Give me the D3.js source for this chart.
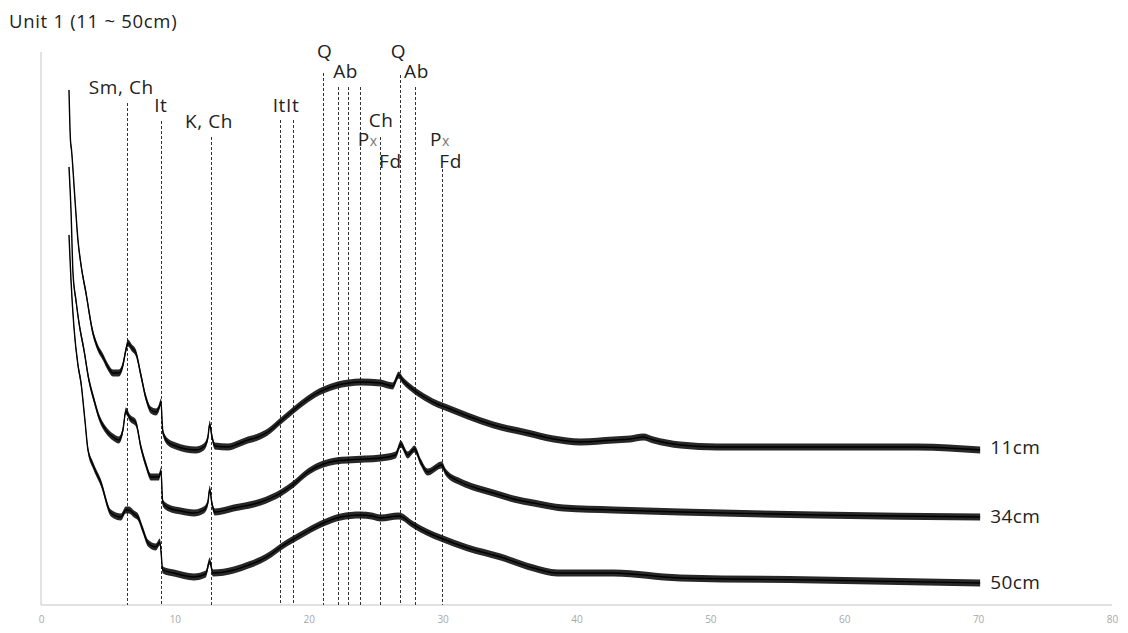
<!DOCTYPE html>
<html>
<head>
<meta charset="utf-8">
<script src="https://cdn.jsdelivr.net/npm/d3@7/dist/d3.min.js"></script>
<style>
  html, body { margin: 0; padding: 0; background: #fff; }
  svg { display: block; font-family: "Open Sans", "Noto Sans", sans-serif; }
</style>
</head>
<body>
<svg id="chart" width="1128" height="633"></svg>
<script>
// X-ray diffraction patterns, Unit 1, three sampling depths (2θ in degrees, intensity in a.u.)
const title = "Unit 1 (11 ~ 50cm)";
const xTicks = [0, 10, 20, 30, 40, 50, 60, 70, 80];
const seriesNames = ["11cm", "34cm", "50cm"];

const trace11 = [
  [2.09,515],[2.2,465],[2.28,455],[2.54,405],[2.76,365],[2.99,340],[3.36,312],[3.88,272],
  [4.25,257],[4.63,248],[5.0,238],[5.37,232],[5.82,232],[6.12,240],[6.34,255],[6.49,262],
  [6.79,257],[7.09,252],[7.46,230],[7.84,207],[8.2,195],[8.58,193],[8.81,197],[8.96,203],
  [9.1,173],[9.48,163],[10.07,159],[10.82,156],[11.57,155],[12.16,158],[12.46,167],[12.6,181],
  [12.76,169],[12.99,159],[13.96,158],[14.7,161],[15.45,165],[16.2,168],[16.94,173],[17.91,184],
  [18.88,195],[19.93,206],[20.5,211],[21.1,215],[22.16,220],[23.0,222],[23.88,223],[25.37,222],
  [26.27,219],[26.72,230],[27.0,225],[27.84,215],[28.88,206],[29.6,201],[30.37,197],[31.87,189],
  [33.8,180],[36.34,172],[38.28,166],[40.3,163],[42.76,165],[44.0,166],[45.0,168],[45.75,165],
  [47.76,160],[50.52,158],[58.0,158],[65.45,158],[70.15,155]
];
const trace34 = [
  [2.09,438],[2.24,395],[2.39,332],[2.61,305],[2.84,282],[3.21,255],[3.58,225],[3.96,205],
  [4.33,188],[4.85,175],[5.37,168],[5.82,165],[6.12,175],[6.34,194],[6.64,187],[7.09,182],
  [7.46,158],[7.84,140],[8.21,128],[8.81,128],[8.96,134],[9.1,102],[9.55,97],[10.45,94],
  [11.42,92],[12.16,95],[12.46,102],[12.6,116],[12.76,102],[12.99,93],[14.4,97],[16.42,103],
  [17.91,112],[18.88,121],[19.93,133],[21.1,141],[22.0,144],[22.9,145],[24.2,146],[25.37,147],
  [26.49,150],[26.87,161],[27.39,150],[27.9,156],[28.36,143],[28.88,133],[29.93,140],[30.22,133],
  [31.34,123],[32.5,117],[33.8,112],[35.3,106],[36.79,102],[39.03,97],[42.76,95],[47.76,93],
  [58.0,90],[70.15,88]
];
const trace50 = [
  [2.09,370],[2.24,325],[2.46,278],[2.76,240],[2.99,222],[3.28,185],[3.51,155],[3.88,140],
  [4.48,122],[5.22,92],[5.97,88],[6.34,95],[6.57,95],[6.94,91],[7.24,88],[7.61,75],
  [7.99,62],[8.58,58],[8.88,63],[9.1,35],[9.93,32],[11.42,28],[12.31,31],[12.6,44],
  [12.84,32],[14.4,35],[15.5,40],[16.42,45],[17.2,51],[17.91,58],[18.88,66],[19.93,74],
  [21.1,82],[22.39,88],[23.88,90],[24.7,89],[25.37,87],[26.72,89],[27.84,80],[28.8,73],
  [29.85,67],[31.87,57],[34.33,48],[36.79,37],[38.58,32],[42.76,32],[47.76,27],[58.0,25],
  [70.15,22]
];
const traces = [trace11, trace34, trace50];
const labelValues = [157, 88, 22];

// reference lines: 2θ position and intensity where each dashed line starts
const refPositions = [6.4, 8.95, 12.7, 17.85, 18.8, 21.05, 22.15, 22.9, 23.85, 25.35, 26.85, 27.95, 29.95];
const refTops      = [502, 484, 468, 485, 485, 532, 518, 518, 518, 468, 530, 518, 436];

// mineral annotations: text, 2θ anchor, intensity of baseline
const mineralLabels = [
  ["Sm, Ch", 6.0, 511], ["It", 8.95, 493], ["K, Ch", 12.55, 477], ["ItIt", 18.3, 493],
  ["Q", 21.2, 547], ["Ab", 22.75, 527], ["Q", 26.7, 547], ["Ab", 28.05, 527],
  ["Ch", 25.4, 478], ["Px", 24.4, 459], ["Fd", 26.1, 437], ["Px", 29.8, 459], ["Fd", 30.6, 437]
];

const svg = d3.select("#chart");
const x = d3.scaleLinear().domain([0, 80]).range([41, 1112]);
const y = d3.scaleLinear().domain([0, 553]).range([605, 52]);

// title
svg.append("text").attr("x", 9).attr("y", 28)
  .attr("font-size", 18.5).attr("letter-spacing", 0.7).attr("fill", "#222").text(title);

// plot frame (left and bottom)
svg.append("line").attr("x1", x(0)).attr("x2", x(0)).attr("y1", y(553)).attr("y2", y(0))
  .attr("stroke", "#d9d9d9").attr("stroke-width", 1.5);
svg.append("line").attr("x1", x(0)).attr("x2", x(80)).attr("y1", y(0)).attr("y2", y(0))
  .attr("stroke", "#d9d9d9").attr("stroke-width", 1.5);

// x tick labels
const xAxis = d3.axisBottom(x).tickValues(xTicks).tickSize(0).tickPadding(11);
const gx = svg.append("g").attr("transform", `translate(0,${y(0)})`).call(xAxis);
gx.select(".domain").remove();
gx.selectAll("text").attr("font-size", 10).attr("fill", "#a8a8a8")
  .attr("font-family", "\"Open Sans\", sans-serif");

// dashed reference lines
svg.append("g").selectAll("line").data(refPositions).join("line")
  .attr("x1", d => Math.round(x(d)) + 0.5).attr("x2", d => Math.round(x(d)) + 0.5)
  .attr("y1", (d, i) => y(refTops[i])).attr("y2", y(0))
  .attr("stroke", "#333").attr("stroke-width", 1).attr("stroke-dasharray", "3,2");

// traces: a noise band plus the centre line
const curve = d3.curveMonotoneX;
const band = d3.area().curve(curve).x(d => x(d[0])).y0(d => y(d[1] - 3.5)).y1(d => y(d[1] + 3.5));
const line = d3.line().curve(curve).x(d => x(d[0])).y(d => y(d[1]));
const gt = svg.append("g");
traces.forEach(t => {
  gt.append("path").attr("d", band(t)).attr("fill", "#111").attr("opacity", 0.9);
  gt.append("path").attr("d", line(t)).attr("fill", "none")
    .attr("stroke", "#000").attr("stroke-width", 1.4).attr("stroke-linejoin", "round");
});

// series labels at the right end of each trace
svg.append("g").selectAll("text").data(seriesNames).join("text")
  .attr("x", x(70.9)).attr("y", (d, i) => y(labelValues[i]) + 6)
  .attr("font-size", 19).attr("letter-spacing", 0.4).attr("fill", "#222").text(d => d);

// mineral annotations
const gm = svg.append("g");
mineralLabels.forEach(([txt, pos, v]) => {
  const t = gm.append("text").attr("x", x(pos)).attr("y", y(v))
    .attr("text-anchor", "middle").attr("font-size", 19).attr("letter-spacing", 0.6)
    .attr("fill", "#222");
  if (txt === "Px") {
    t.append("tspan").text("P");
    t.append("tspan").attr("font-size", 14).attr("fill", "#777").text("x");
  } else {
    t.text(txt);
  }
});
</script>
</body>
</html>
